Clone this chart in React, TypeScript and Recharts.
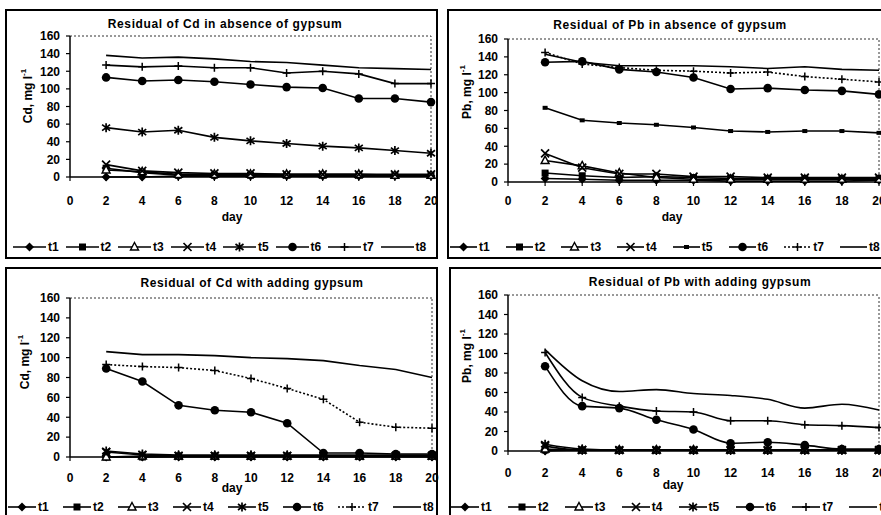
import React from 'react';
import { LineChart, Line, XAxis, YAxis, ReferenceLine, Legend } from 'recharts';

const DAYS = [2, 4, 6, 8, 10, 12, 14, 16, 18, 20];
const X_TICKS = [0, 2, 4, 6, 8, 10, 12, 14, 16, 18, 20];
const Y_TICKS = [0, 20, 40, 60, 80, 100, 120, 140, 160];
const SERIES = ['t1', 't2', 't3', 't4', 't5', 't6', 't7', 't8'];

const TITLE_CD_ABSENT = 'Residual of Cd in absence of gypsum';
const TITLE_PB_ABSENT = 'Residual of Pb in absence of gypsum';
const TITLE_CD_GYPSUM = 'Residual of Cd with adding gypsum';
const TITLE_PB_GYPSUM = 'Residual of Pb with adding gypsum';

// rows: t1..t8, columns: DAYS
const CD_ABSENT = [
  [0, 0, 1, 1, 1, 1, 1, 1, 1, 1],
  [10, 5, 2, 2, 2, 2, 2, 2, 2, 2],
  [8, 6, 3, 3, 3, 3, 3, 3, 2, 2],
  [14, 7, 5, 4, 4, 3, 3, 3, 3, 3],
  [56, 51, 53, 45, 41, 38, 35, 33, 30, 27],
  [113, 109, 110, 108, 105, 102, 101, 89, 89, 85],
  [127, 125, 126, 124, 124, 118, 120, 117, 106, 106],
  [138, 135, 136, 134, 131, 130, 127, 124, 123, 122],
];
const PB_ABSENT = [
  [4, 3, 2, 2, 2, 1, 1, 1, 1, 2],
  [10, 7, 5, 6, 5, 4, 4, 4, 4, 4],
  [24, 18, 10, 5, 3, 3, 3, 3, 3, 3],
  [32, 16, 9, 9, 6, 6, 5, 5, 5, 5],
  [83, 69, 66, 64, 61, 57, 56, 57, 57, 55],
  [134, 135, 126, 123, 117, 104, 105, 103, 102, 98],
  [145, 132, 128, 125, 124, 122, 123, 118, 115, 112],
  [143, 134, 130, 130, 130, 129, 127, 129, 126, 125],
];
const CD_GYPSUM = [
  [0, 0, 0, 0, 0, 0, 0, 0, 0, 0],
  [0, 0, 1, 1, 1, 1, 1, 1, 1, 1],
  [0, 1, 1, 1, 1, 1, 1, 1, 1, 1],
  [5, 2, 1, 1, 1, 1, 1, 1, 1, 1],
  [6, 3, 2, 2, 2, 2, 2, 2, 2, 2],
  [89, 76, 52, 47, 45, 34, 4, 4, 3, 3],
  [93, 91, 90, 87, 79, 69, 58, 35, 30, 29],
  [106, 103, 103, 102, 100, 99, 97, 92, 88, 80],
];
const PB_GYPSUM = [
  [0, 1, 1, 1, 1, 1, 1, 1, 1, 1],
  [1, 1, 1, 1, 1, 1, 1, 1, 1, 1],
  [2, 1, 1, 1, 1, 1, 1, 1, 1, 1],
  [5, 1, 1, 1, 1, 1, 1, 1, 1, 1],
  [7, 2, 1, 1, 1, 1, 1, 1, 1, 1],
  [87, 46, 44, 32, 22, 8, 9, 6, 2, 2],
  [101, 55, 46, 41, 40, 31, 31, 27, 26, 24],
  [104, 72, 61, 63, 59, 57, 53, 44, 48, 42],
];

const MARKERS_A = ['diamond', 'square', 'triangle', 'x', 'star', 'circle', 'plus', 'none'];
const MARKERS_B = ['diamond', 'square', 'triangle', 'x', 'smallsq', 'circle', 'plus', 'none'];

const FONT = "'Liberation Sans', Arial, sans-serif";

function buildRows(matrix: number[][]) {
  return DAYS.map((d, i) => {
    const row: Record<string, number> = { day: d };
    SERIES.forEach((s, k) => {
      row[s] = matrix[k][i];
    });
    return row;
  });
}

function marker(kind: string, cx: number, cy: number, key?: string) {
  const k = key;
  switch (kind) {
    case 'diamond':
      return <polygon key={k} points={`${cx},${cy - 4.5} ${cx + 4.5},${cy} ${cx},${cy + 4.5} ${cx - 4.5},${cy}`} fill="#000" />;
    case 'square':
      return <rect key={k} x={cx - 3.5} y={cy - 3.5} width={7} height={7} fill="#000" />;
    case 'smallsq':
      return <rect key={k} x={cx - 2.5} y={cy - 2} width={5} height={4} fill="#000" />;
    case 'triangle':
      return <polygon key={k} points={`${cx},${cy - 4.5} ${cx + 4},${cy + 3} ${cx - 4},${cy + 3}`} fill="#fff" stroke="#000" strokeWidth={1.4} />;
    case 'x':
      return <path key={k} d={`M${cx - 4},${cy - 4}L${cx + 4},${cy + 4}M${cx - 4},${cy + 4}L${cx + 4},${cy - 4}`} stroke="#000" strokeWidth={1.7} />;
    case 'star':
      return <path key={k} d={`M${cx - 4},${cy - 3}L${cx + 4},${cy + 3}M${cx - 4},${cy + 3}L${cx + 4},${cy - 3}M${cx},${cy - 4.5}L${cx},${cy + 4.5}`} stroke="#000" strokeWidth={1.7} />;
    case 'circle':
      return <circle key={k} cx={cx} cy={cy} r={4.3} fill="#000" />;
    case 'plus':
      return <path key={k} d={`M${cx - 4},${cy}L${cx + 4},${cy}M${cx},${cy - 4}L${cx},${cy + 4}`} stroke="#000" strokeWidth={1.5} />;
    default:
      return <g key={k} />;
  }
}

type PanelCfg = {
  box: { left: number; top: number; width: number; height: number };
  chartExtra: number;
  title: string;
  titleAt: [number, number];
  yLabel: string;
  yLabelAt: [number, number];
  dayAt: [number, number];
  matrix: number[][];
  markers: string[];
  margin: { top: number; right: number; left: number; bottom: number };
  yAxisW: number;
  xAxisH: number;
  tickMargin: number;
  legendStart: number;
  legendSpacing: number;
  legendLine: number;
  t7Dash?: string;
  curve: 'linear' | 'monotone';
};

const LegendRow = ({ cfg }: { cfg: PanelCfg }) => (
  <div style={{ position: 'relative', height: 16, width: '100%', fontFamily: FONT }}>
    {SERIES.map((s, i) => (
      <div
        key={s}
        style={{ position: 'absolute', left: cfg.legendStart + i * cfg.legendSpacing, top: 0, height: 16, display: 'flex', alignItems: 'center' }}
      >
        <svg width={cfg.legendLine} height={16} style={{ display: 'block' }}>
          <line x1={0} y1={8} x2={cfg.legendLine} y2={8} stroke="#000" strokeWidth={1.6} strokeDasharray={i === 6 ? cfg.t7Dash : undefined} />
          {marker(cfg.markers[i], cfg.legendLine / 2, 8)}
        </svg>
        <span style={{ marginLeft: 2, fontSize: 12, fontWeight: 'bold', color: '#000', lineHeight: '16px' }}>{s}</span>
      </div>
    ))}
  </div>
);

const Panel = ({ cfg }: { cfg: PanelCfg }) => {
  const W = cfg.box.width - 4 + cfg.chartExtra;
  const H = cfg.box.height - 4;
  const data = buildRows(cfg.matrix);
  const ox = cfg.box.left + 2;
  const oy = cfg.box.top + 2;
  const yl = (_p: any) => {
    const cx = cfg.yLabelAt[0] - ox;
    const cy = cfg.yLabelAt[1] - oy;
    return (
      <text x={cx} y={cy} transform={`rotate(-90 ${cx} ${cy})`} textAnchor="middle" dominantBaseline="central" fontSize={12} fontWeight="bold" fill="#000" fontFamily={FONT}>
        {cfg.yLabel}
        <tspan dy={-5} fontSize={8}>-1</tspan>
      </text>
    );
  };
  const xl = (_p: any) => (
    <text x={cfg.dayAt[0] - ox} y={cfg.dayAt[1] - oy} textAnchor="middle" dominantBaseline="central" fontSize={12} fontWeight="bold" fill="#000" fontFamily={FONT}>
      day
    </text>
  );
  const tickStyle = { fontSize: 12, fontWeight: 'bold' as const, fill: '#000', fontFamily: FONT };
  return (
    <div
      style={{
        position: 'absolute',
        left: cfg.box.left,
        top: cfg.box.top,
        width: cfg.box.width,
        height: cfg.box.height,
        border: '2px solid #000',
        boxSizing: 'border-box',
      }}
    >
      <div
        style={{
          position: 'absolute',
          left: cfg.titleAt[0] - ox,
          top: cfg.titleAt[1] - oy,
          transform: 'translate(-50%, -50%)',
          whiteSpace: 'nowrap',
          fontFamily: FONT,
          fontWeight: 'bold',
          fontSize: 12,
          letterSpacing: 0.6,
          color: '#000',
          zIndex: 2,
        }}
      >
        {cfg.title}
      </div>
      <LineChart width={W} height={H} data={data} margin={cfg.margin}>
        <XAxis
          dataKey="day"
          type="number"
          domain={[0, 20]}
          ticks={X_TICKS}
          interval={0}
          height={cfg.xAxisH}
          tickSize={4}
          tickMargin={cfg.tickMargin}
          axisLine={{ stroke: '#000', strokeWidth: 1.5 }}
          tickLine={{ stroke: '#000', strokeWidth: 1.2 }}
          tick={tickStyle}
          label={xl}
        />
        <YAxis
          type="number"
          domain={[0, 160]}
          ticks={Y_TICKS}
          interval={0}
          width={cfg.yAxisW}
          tickSize={4}
          tickMargin={6}
          axisLine={{ stroke: '#000', strokeWidth: 1.5 }}
          tickLine={{ stroke: '#000', strokeWidth: 1.2 }}
          tick={tickStyle}
          label={yl}
        />
        <ReferenceLine y={160} stroke="#333" strokeWidth={1} strokeDasharray="2 2" />
        <ReferenceLine x={20} stroke="#333" strokeWidth={1} strokeDasharray="2 2" />
        <Legend
          verticalAlign="bottom"
          height={16}
          wrapperStyle={{ left: 0, width: W }}
          content={() => <LegendRow cfg={cfg} />}
        />
        {SERIES.map((s, i) => (
          <Line
            key={s}
            dataKey={s}
            type={cfg.curve}
            stroke="#000"
            strokeWidth={1.6}
            strokeDasharray={i === 6 ? cfg.t7Dash : undefined}
            isAnimationActive={false}
            dot={cfg.markers[i] === 'none' ? false : (p: any) => marker(cfg.markers[i], p.cx, p.cy, `${s}-${p.index}`)}
            activeDot={false}
          />
        ))}
      </LineChart>
    </div>
  );
};

const PANELS: PanelCfg[] = [
  {
    box: { left: 5, top: 9, width: 433, height: 250 },
    chartExtra: 8,
    title: TITLE_CD_ABSENT,
    titleAt: [225, 24],
    yLabel: 'Cd, mg l',
    yLabelAt: [28, 96],
    dayAt: [232, 217],
    matrix: CD_ABSENT,
    markers: MARKERS_A,
    margin: { top: 25, right: 13, left: 0, bottom: 2 },
    yAxisW: 63,
    xAxisH: 62,
    tickMargin: 15,
    legendStart: 6,
    legendSpacing: 52.5,
    legendLine: 33,
    curve: 'linear',
  },
  {
    box: { left: 447, top: 9, width: 450, height: 250 },
    chartExtra: 0,
    title: TITLE_PB_ABSENT,
    titleAt: [670, 25],
    yLabel: 'Pb, mg l',
    yLabelAt: [467, 92],
    dayAt: [672, 217],
    matrix: PB_ABSENT,
    markers: MARKERS_B,
    margin: { top: 28, right: 16, left: 0, bottom: 2 },
    yAxisW: 59,
    xAxisH: 57,
    tickMargin: 10,
    legendStart: 1,
    legendSpacing: 55.7,
    legendLine: 27,
    t7Dash: '2 2',
    curve: 'linear',
  },
  {
    box: { left: 5, top: 267, width: 433, height: 255 },
    chartExtra: 8,
    title: TITLE_CD_GYPSUM,
    titleAt: [252, 283],
    yLabel: 'Cd, mg l',
    yLabelAt: [25, 362],
    dayAt: [232, 488],
    matrix: CD_GYPSUM,
    markers: MARKERS_A,
    margin: { top: 29, right: 12, left: 0, bottom: 5 },
    yAxisW: 63,
    xAxisH: 42,
    tickMargin: 12,
    legendStart: 1,
    legendSpacing: 55,
    legendLine: 28,
    t7Dash: '2 2',
    curve: 'linear',
  },
  {
    box: { left: 449, top: 267, width: 450, height: 255 },
    chartExtra: 0,
    title: TITLE_PB_GYPSUM,
    titleAt: [700, 282],
    yLabel: 'Pb, mg l',
    yLabelAt: [467, 356],
    dayAt: [673, 485],
    matrix: PB_GYPSUM,
    markers: MARKERS_A,
    margin: { top: 26, right: 18, left: 0, bottom: 5 },
    yAxisW: 57,
    xAxisH: 48,
    tickMargin: 13,
    legendStart: 0,
    legendSpacing: 56.9,
    legendLine: 28,
    curve: 'monotone',
  },
];

export default function App() {
  return (
    <div style={{ position: 'absolute', left: 0, top: 0, width: 881, height: 515, overflow: 'hidden', background: '#fff' }}>
      {PANELS.map((cfg, i) => (
        <Panel key={i} cfg={cfg} />
      ))}
    </div>
  );
}
